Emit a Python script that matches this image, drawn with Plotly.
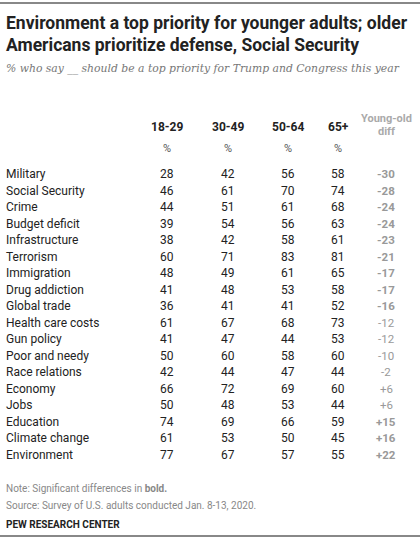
import plotly.graph_objects as go

issues = ["Military","Social Security","Crime","Budget deficit","Infrastructure","Terrorism",
          "Immigration","Drug addiction","Global trade","Health care costs","Gun policy",
          "Poor and needy","Race relations","Economy","Jobs","Education","Climate change","Environment"]
age_groups = ["18-29","30-49","50-64","65+"]
v1829 = [28,46,44,39,38,60,48,41,36,61,41,50,42,66,50,74,61,77]
v3049 = [42,61,51,54,42,71,49,48,41,67,47,60,44,72,48,69,53,67]
v5064 = [56,70,61,56,58,83,61,53,41,68,44,58,47,69,53,66,50,57]
v65 = [58,74,68,63,61,81,65,58,52,73,53,60,44,60,44,59,45,55]
diff = ["-30","-28","-24","-24","-23","-21","-17","-17","-16","-12","-12","-10","-2","+6","+6","+15","+16","+22"]
significant = [1,1,1,1,1,1,1,1,1,0,0,0,0,0,0,1,1,1]

cols = [v1829, v3049, v5064, v65]
colx = [167, 228, 288, 338]
diffx = 386
F = "Roboto, Liberation Sans, sans-serif"

fig = go.Figure()
ann = []
def t(x, y, s, size=12, color="#222", xa="center", fam=F):
    ann.append(dict(x=x, y=y, text=s, showarrow=False, xanchor=xa, yanchor="middle",
                    font=dict(size=size, color=color, family=fam), xref="x", yref="y"))

t(4, 23, "<b>Environment a top priority for younger adults; older</b>", 17.5, "#222", "left")
t(4, 45, "<b>Americans prioritize defense, Social Security</b>", 17.5, "#222", "left")
t(4, 68, "<i>% who say __ should be a top priority for Trump and Congress this year</i>", 10.8, "#777", "left",
  "DejaVu Serif, Liberation Serif, serif")
for x, g in zip(colx, age_groups):
    t(x, 127, f"<b>{g}</b>", 12)
    t(x, 148, "%", 11, "#555")
t(diffx, 118, "<b>Young-old</b>", 11, "#aaa")
t(diffx, 131, "<b>diff</b>", 11, "#aaa")

y0, dy = 174, 16.5
for i, name in enumerate(issues):
    y = y0 + i * dy
    t(4, y, name, 12, "#222", "left")
    for x, c in zip(colx, cols):
        t(x, y, str(c[i]), 12)
    d = f"<b>{diff[i]}</b>" if significant[i] else diff[i]
    t(diffx, y, d, 11.5, "#999")

t(4, 488, "Note: Significant differences in <b>bold.</b>", 10, "#888", "left")
t(4, 505, "Source: Survey of U.S. adults conducted Jan. 8-13, 2020.", 10, "#888", "left")
t(4, 524, "<b>PEW RESEARCH CENTER</b>", 10, "#222", "left")

shapes = [dict(type="line", x0=0, x1=420, y0=3, y1=3, line=dict(color="#888", width=2), xref="x", yref="y"),
          dict(type="line", x0=0, x1=420, y0=536, y1=536, line=dict(color="#888", width=2), xref="x", yref="y")]

fig.update_layout(width=420, height=540, margin=dict(l=0, r=0, t=0, b=0),
                  paper_bgcolor="white", plot_bgcolor="white", annotations=ann, shapes=shapes,
                  xaxis=dict(range=[0, 420], visible=False, fixedrange=True),
                  yaxis=dict(range=[540, 0], visible=False, fixedrange=True), showlegend=False)
fig.write_html("out.html", config={"displayModeBar": False},
               post_script="document.body.style.margin='0';document.body.style.overflow='hidden';")
